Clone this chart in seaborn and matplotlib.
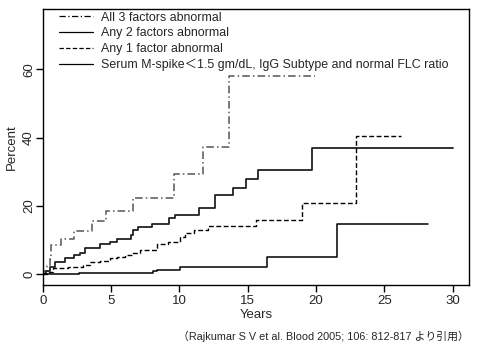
import matplotlib
matplotlib.use("Agg")
import matplotlib.pyplot as plt
import seaborn as sns
import pandas as pd

sns.set_theme(style="white")
plt.rcParams['font.family'] = ['Liberation Sans', 'Noto Sans CJK JP', 'DejaVu Sans']

labels = ["All 3 factors abnormal",
          "Any 2 factors abnormal",
          "Any 1 factor abnormal",
          "Serum M-spike\uff1c1.5 gm/dL, IgG Subtype and normal FLC ratio"]

all3_t = [0, 0.1, 0.3, 0.5, 0.62, 1.37, 2.3, 3.63, 4.63, 6.63, 9.6, 11.75, 13.65, 19.9]
all3_v = [0, 1.0, 2.5, 4.5, 8.5, 10.5, 12.8, 15.6, 18.4, 22.3, 29.4, 37.2, 58.0, 58.0]

any2_t = [0, 0.25, 0.5, 0.9, 1.63, 2.29, 2.73, 3.1, 4.19, 4.92, 5.46, 6.46, 6.58, 6.95,
          7.97, 9.26, 9.68, 11.43, 12.6, 13.9, 14.87, 15.77, 19.72, 30.0]
any2_v = [0, 1.0, 2.2, 3.7, 4.9, 5.6, 6.2, 7.8, 8.8, 9.4, 10.3, 11.5, 13.0, 14.0,
          14.8, 16.4, 17.4, 19.4, 23.2, 25.3, 27.9, 30.6, 36.9, 36.9]

any1_t = [0, 0.3, 0.78, 1.87, 2.97, 3.46, 4.19, 4.92, 5.41, 6.02, 6.63, 7.12, 8.34, 9.19,
          10.04, 10.41, 11.09, 12.11, 15.6, 18.95, 22.9, 26.2]
any1_v = [0, 0.6, 1.8, 2.2, 2.8, 3.5, 3.9, 4.7, 5.2, 5.7, 6.4, 7.2, 8.9, 9.6,
          10.9, 12.0, 13.0, 14.3, 15.9, 20.8, 40.5, 40.5]

serum_t = [0, 2.66, 8.09, 8.34, 10.04, 16.43, 21.55, 28.2]
serum_v = [0, 0.5, 1.0, 1.4, 2.2, 5.2, 14.7, 14.7]

x_ticks = [0, 5, 10, 15, 20, 25, 30]
y_ticks = [0, 20, 40, 60]

series = [(all3_t, all3_v), (any2_t, any2_v), (any1_t, any1_v), (serum_t, serum_v)]
styles = [dict(color="#555555", lw=1.1, dashes=(5, 2, 1, 2)),
          dict(color="#222222", lw=1.3, dashes=None),
          dict(color="#000000", lw=1.0, dashes=(3.5, 1.8)),
          dict(color="#000000", lw=1.1, dashes=None)]

fig = plt.figure(figsize=(4.82, 3.5), dpi=100)
ax = fig.add_axes([0.0886, 0.186, 0.973 - 0.0886, 0.974 - 0.186])

for lab, (t, v), st in zip(labels, series, styles):
    df = pd.DataFrame({"Years": t, "Percent": v})
    sns.lineplot(data=df, x="Years", y="Percent", ax=ax, drawstyle="steps-post",
                 estimator=None, sort=False, color=st["color"], linewidth=st["lw"],
                 label=lab)
    line = ax.lines[-1]
    if st["dashes"] is not None:
        line.set_dashes(st["dashes"])

ax.set_xlim(0, 31.2)
ax.set_ylim(-3.07, 77.6)
ax.set_xticks(x_ticks)
ax.set_yticks(y_ticks)
ax.set_yticklabels([str(y) for y in y_ticks], rotation=90, va="center")
ax.tick_params(axis="x", direction="out", length=5, width=1, color="black",
               labelsize=9.5, pad=2, bottom=True)
ax.tick_params(axis="y", direction="out", length=5, width=1, color="black",
               labelsize=9.5, pad=0.5, left=True)
ax.set_xlabel("Years", fontsize=9.5, labelpad=2)
ax.set_ylabel("Percent", fontsize=9.5, labelpad=4)
for s in ax.spines.values():
    s.set_color("black")
    s.set_linewidth(1.0)
ax.grid(False)

leg = ax.legend(loc="upper left", bbox_to_anchor=(0.02, 1.018), frameon=False,
                fontsize=8.9, handlelength=2.8, handletextpad=0.65, labelspacing=0.3,
                borderaxespad=0.2)
for h in leg.get_lines():
    h.set_color("black")
    h.set_linewidth(0.9)

fig.text(0.972, 0.022, "\uff08Rajkumar S V et al. Blood 2005; 106: 812-817 \u3088\u308a\u5f15\u7528\uff09",
         ha="right", va="bottom", fontsize=7.8,
         family=["Liberation Sans", "Noto Sans CJK JP", "DejaVu Sans"])

fig.savefig("out.png", dpi=100)
